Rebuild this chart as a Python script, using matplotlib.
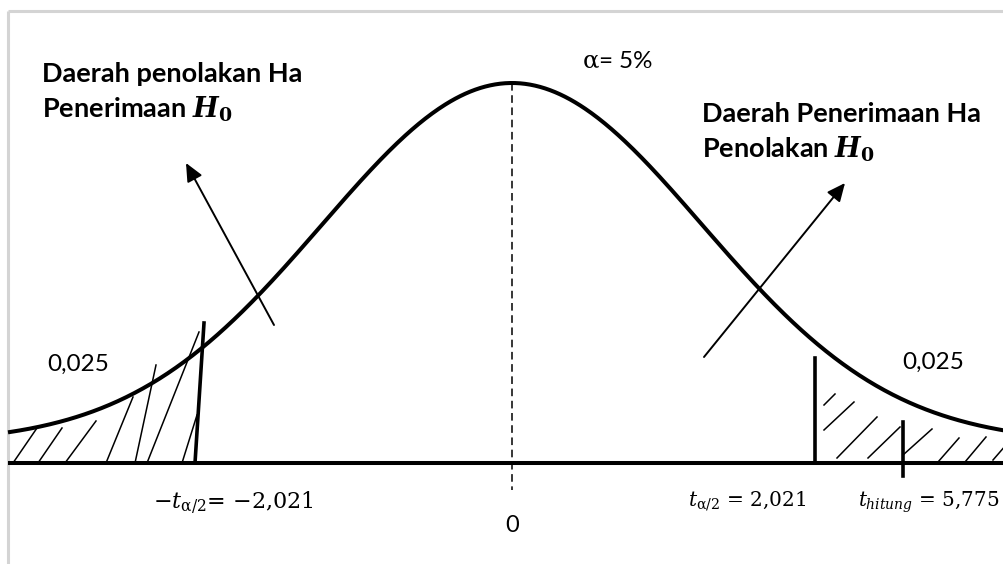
import numpy as np
import matplotlib
matplotlib.use("Agg")
import matplotlib.pyplot as plt
from matplotlib.mathtext import MathTextParser

plt.rcParams['mathtext.fontset'] = 'dejavuserif'
plt.rcParams['font.family'] = ['Lato', 'DejaVu Sans']

# ---- values shown in the diagram ----
t_crit = 2.021
t_hitung = 5.775
tail_area_label = "0,025"
alpha_value = "5%"
left_title = ["Daerah penolakan Ha", "Penerimaan"]
right_title = ["Daerah Penerimaan Ha", "Penolakan"]
label_zero = "0"

# schematic bell-curve shape (diagram units)
curve_center = 512
curve_peak = 360
curve_offset = 20
curve_spread = 190

# schematic positions of t values on the diagram axis
t_values = [-t_crit, 0.0, t_crit, t_hitung]
t_xpos = [200, 512, 815, 903]

# hatch strokes (x0, y0, x1, y1)
hatch_left = [(13, 463, 37, 428), (38, 463, 62, 428), (65, 463, 96, 421),
              (106, 463, 133, 397), (135, 463, 156, 365), (147, 463, 199, 332),
              (182, 463, 197, 415)]
hatch_right = [(824, 405, 835, 394), (824, 430, 854, 402), (837, 458, 877, 417),
               (868, 458, 900, 427), (903, 455, 932, 429), (938, 462, 959, 438),
               (965, 462, 986, 437), (993, 460, 1006, 445)]

baseline = 463

# H0 symbol (bold italic if available)
try:
    MathTextParser('agg').parse(r'$\mathbfit{H}_{\mathbf{0}}$', dpi=100)
    H0 = r'$\mathbfit{H}_{\mathbf{0}}$'
except Exception:
    H0 = r'$\boldsymbol{H}_{\mathbf{0}}$'


def fmt(v):
    return f"{v:.3f}".replace('.', ',')


fig = plt.figure(figsize=(10.04, 5.64), dpi=100)
ax = fig.add_axes([0, 0, 1, 1])
ax.set_xlim(0, 1004)
ax.set_ylim(564, 0)
ax.axis('off')

# frame (light gray)
ax.plot([8.5, 1004], [10.5, 10.5], color='#d4d4d4', lw=2.2, solid_capstyle='butt')
ax.plot([8.5, 8.5], [10.5, 564], color='#d4d4d4', lw=2.2, solid_capstyle='butt')

# curve
xs = np.linspace(8, 1004, 600)
h = curve_offset + curve_peak * np.exp(-(xs - curve_center) ** 2 / (2 * curve_spread ** 2))
ax.plot(xs, baseline - h, color='black', lw=2.9, solid_capstyle='butt')

# baseline
ax.plot([8, 1004], [baseline, baseline], color='black', lw=2.9, solid_capstyle='butt')

# dashed center line
peak_y = baseline - curve_offset - curve_peak
ax.plot([t_xpos[1], t_xpos[1]], [peak_y, 490], color='black', lw=1.1,
        dashes=(5, 3))

# critical lines
ax.plot([t_xpos[0] + 4, t_xpos[0] - 5], [323, baseline], color='black', lw=2.6)
ax.plot([t_xpos[2], t_xpos[2]], [358, baseline], color='black', lw=2.6)
ax.plot([t_xpos[3], t_xpos[3]], [422, 476], color='black', lw=2.6)

# hatch
for x0, y0, x1, y1 in hatch_left + hatch_right:
    ax.plot([x0, x1], [y0, y1], color='black', lw=1.1)

# arrows
arrow_style = '-|>,head_length=1.1,head_width=0.5'
ax.annotate('', xy=(186, 163), xytext=(274, 325),
            arrowprops=dict(arrowstyle=arrow_style, color='black', lw=1.4,
                            shrinkA=0, shrinkB=0))
ax.annotate('', xy=(845, 183), xytext=(704, 357),
            arrowprops=dict(arrowstyle=arrow_style, color='black', lw=1.4,
                            shrinkA=0, shrinkB=0))

# titles
tfs = 19.5
ax.text(42, 82, left_title[0], fontsize=tfs, fontweight='bold', va='baseline', ha='left')
ax.text(42, 118, left_title[1] + " " + H0, fontsize=tfs, fontweight='bold',
        va='baseline', ha='left')
ax.text(702, 122, right_title[0], fontsize=tfs, fontweight='bold', va='baseline', ha='left')
ax.text(702, 158, right_title[1] + " " + H0, fontsize=tfs, fontweight='bold',
        va='baseline', ha='left')

ax.text(582, 68, r"$\mathrm{\alpha}$= " + alpha_value, fontsize=17.5,
        va='baseline', ha='left', family=['Lato', 'DejaVu Sans'])

ax.text(47, 371, tail_area_label, fontsize=17.5, va='baseline', ha='left')
ax.text(902, 369, tail_area_label, fontsize=17.5, va='baseline', ha='left')

serif = ['DejaVu Serif']
ax.text(153, 508, r"$-t_{\mathrm{\alpha}/2}$= $-$" + fmt(t_crit),
        fontsize=16, va='baseline', ha='left', family=serif)
ax.text(688, 506, r"$t_{\mathrm{\alpha}/2}$ = " + fmt(t_crit),
        fontsize=14.5, va='baseline', ha='left', family=serif)
ax.text(858, 507, r"$t_{hitung}$ = " + fmt(t_hitung),
        fontsize=14.3, va='baseline', ha='left', family=serif)
ax.text(t_xpos[1], 532, label_zero, fontsize=17, va='baseline', ha='center')

fig.savefig('out.png', dpi=100)
